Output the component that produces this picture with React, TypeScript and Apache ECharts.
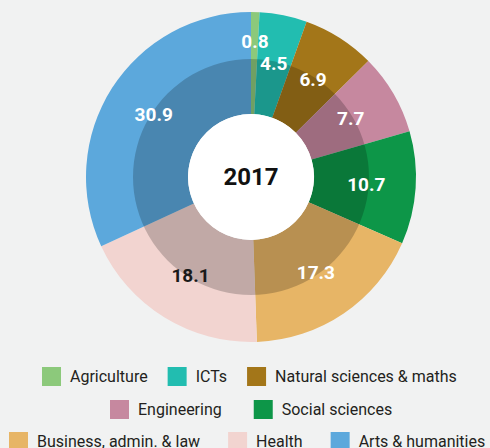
import React, { useEffect, useRef } from "react";
import * as echarts from "echarts";

const categories = [
  "Agriculture",
  "ICTs",
  "Natural sciences & maths",
  "Engineering",
  "Social sciences",
  "Business, admin. & law",
  "Health",
  "Arts & humanities",
];
const values = [0.8, 4.5, 6.9, 7.7, 10.7, 17.3, 18.1, 30.9];
const palette = [
  "#8cc97b",
  "#22bdb0",
  "#a37619",
  "#c6889f",
  "#0d9648",
  "#e7b566",
  "#f2d4d0",
  "#5ca8dc",
];
const labelColors = ["#fff", "#fff", "#fff", "#fff", "#fff", "#fff", "#1a1a1a", "#fff"];
const legendRows = [
  ["Agriculture", "ICTs", "Natural sciences & maths"],
  ["Engineering", "Social sciences"],
  ["Business, admin. & law", "Health", "Arts & humanities"],
];
const centerLabel = "2017";
const titleText = "by field of study, 2017 (%)";

const FONT = "Roboto, 'Noto Sans', sans-serif";

export default function App() {
  const ref = useRef<HTMLDivElement>(null);
  useEffect(() => {
    document.body.style.margin = "0";
    const chart = echarts.init(ref.current!, undefined, { renderer: "svg" });
    const center = [251, 177];
    const legendTops = [367, 400, 432];
    const legendLefts = [42, 110, 9];
    const legendGaps = [20, 32, 28];
    const option: any = {
      animation: false,
      backgroundColor: "#f1f2f2",
      textStyle: { fontFamily: FONT },
      title: {
        text: titleText,
        left: 5,
        top: -20,
        padding: 0,
        textStyle: { fontSize: 17, fontWeight: "bold", color: "#111", fontFamily: FONT },
      },
      legend: legendRows.map((row, i) => ({
        data: row,
        left: legendLefts[i],
        top: legendTops[i],
        padding: 0,
        itemGap: legendGaps[i],
        itemWidth: 19,
        itemHeight: 19,
        icon: "rect",
        selectedMode: false,
        textStyle: {
          fontSize: 16,
          color: "#231f20",
          fontFamily: FONT,
          padding: [0, 0, 0, 4],
        },
      })),
      series: [
        {
          type: "pie",
          name: "main",
          z: 1,
          center,
          radius: [63, 165],
          startAngle: 90,
          clockwise: true,
          silent: true,
          label: { show: false },
          labelLine: { show: false },
          itemStyle: { borderWidth: 0 },
          data: categories.map((c, i) => ({
            name: c,
            value: values[i],
            itemStyle: { color: palette[i] },
          })),
        },
        {
          type: "pie",
          name: "overlay",
          z: 2,
          center,
          radius: [63, 118],
          silent: true,
          label: { show: false },
          labelLine: { show: false },
          itemStyle: { color: "rgba(0,0,0,0.2)", borderWidth: 0 },
          data: [{ name: "overlay", value: 1 }],
        },
        {
          type: "pie",
          name: "labels",
          z: 3,
          center,
          radius: [65, 160],
          startAngle: 90,
          clockwise: true,
          silent: true,
          itemStyle: { color: "rgba(0,0,0,0)", borderWidth: 0 },
          labelLine: { show: false },
          label: {
            show: true,
            position: "inside",
            fontSize: 19,
            fontWeight: "bold",
            fontFamily: FONT,
            formatter: (p: any) => String(p.value),
          },
          labelLayout: (p: any) => (p.dataIndex === 0 ? { dx: 1, dy: -20 } : {}),
          data: categories.map((c, i) => ({
            name: c,
            value: values[i],
            label: { color: labelColors[i] },
          })),
        },
        {
          type: "pie",
          name: "center",
          z: 4,
          center,
          radius: [0, 63],
          silent: true,
          labelLine: { show: false },
          itemStyle: { color: "#ffffff", borderWidth: 0 },
          label: {
            show: true,
            position: "center",
            fontSize: 24,
            fontWeight: "bold",
            color: "#111",
            fontFamily: FONT,
            formatter: () => centerLabel,
          },
          data: [{ name: "centre", value: 1 }],
        },
      ],
    };
    chart.setOption(option);
    return () => chart.dispose();
  }, []);
  return <div ref={ref} style={{ width: 490, height: 448 }} />;
}
